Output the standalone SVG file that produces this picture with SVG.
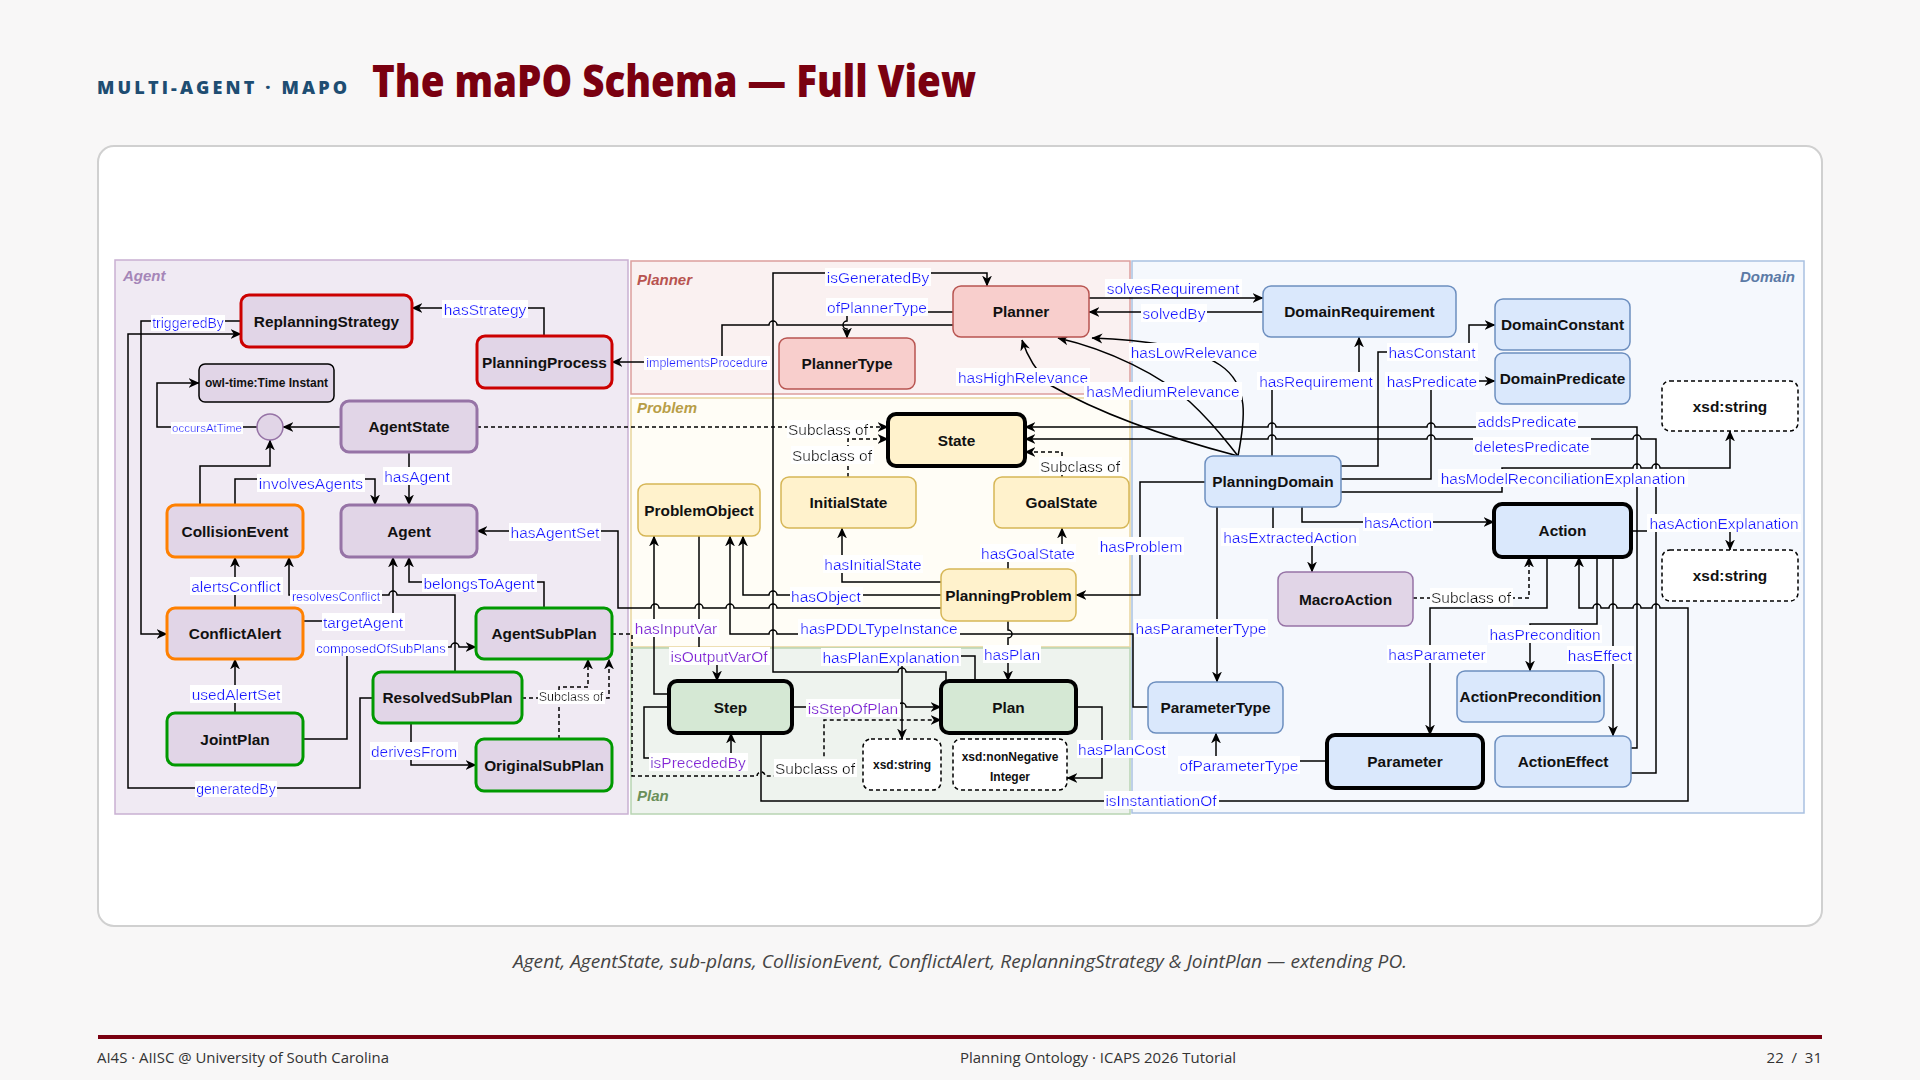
<svg xmlns="http://www.w3.org/2000/svg" width="1920" height="1080" viewBox="0 0 1920 1080">
<defs>
<marker id="ar" viewBox="0 0 10 10" refX="9.5" refY="5" markerWidth="11" markerHeight="11" markerUnits="userSpaceOnUse" orient="auto"><path d="M0,0.5 L10,5 L0,9.5 L3,5 z" fill="#000"/></marker>
<filter id="bg" x="-0.01" y="0" width="1.02" height="1"><feFlood flood-color="#ffffff"/><feComposite in="SourceGraphic" operator="over"/></filter>
</defs>
<style>
.e{fill:none;stroke:#000;stroke-width:1.5;marker-end:url(#ar)}
.d{fill:none;stroke:#000;stroke-width:1.5;stroke-dasharray:4 3;marker-end:url(#ar)}
.l{font-family:"Liberation Sans",Arial,sans-serif;font-size:15.5px;fill:#1a1aff;text-anchor:middle;dominant-baseline:central;filter:url(#bg)}
.p{font-family:"Liberation Sans",Arial,sans-serif;font-size:15.5px;fill:#8a22d8;text-anchor:middle;dominant-baseline:central;filter:url(#bg)}
.s{font-family:"Liberation Sans",Arial,sans-serif;font-size:12.5px;fill:#1a1aff;text-anchor:middle;dominant-baseline:central;filter:url(#bg)}
.k{font-family:"Liberation Sans",Arial,sans-serif;font-size:15.5px;fill:#111;text-anchor:middle;dominant-baseline:central;filter:url(#bg)}
.ks{font-family:"Liberation Sans",Arial,sans-serif;font-size:12.5px;fill:#111;text-anchor:middle;dominant-baseline:central;filter:url(#bg)}
.t{font-family:"Liberation Sans",Arial,sans-serif;font-size:15.4px;font-weight:bold;fill:#111;text-anchor:middle;dominant-baseline:central}
.ts{font-family:"Liberation Sans",Arial,sans-serif;font-size:12px;font-weight:bold;fill:#111;text-anchor:middle;dominant-baseline:central}
.ag{fill:#e1d5e7;stroke:#9673a6;stroke-width:3}
.agt{fill:#e1d5e7;stroke:#9673a6;stroke-width:1.5}
.rd{fill:#e1d5e7;stroke:#cc0000;stroke-width:3}
.or{fill:#e1d5e7;stroke:#ff8000;stroke-width:3}
.gr{fill:#e1d5e7;stroke:#009900;stroke-width:3}
.bk{fill:#e1d5e7;stroke:#000;stroke-width:1.5}
.pl{fill:#f8cecc;stroke:#b85450;stroke-width:1.5}
.yl{fill:#fff2cc;stroke:#d6b656;stroke-width:1.5}
.ylk{fill:#fff2cc;stroke:#000;stroke-width:4}
.gk{fill:#d5e8d4;stroke:#000;stroke-width:4}
.xs{fill:#fff;stroke:#000;stroke-width:1.5;stroke-dasharray:4 3}
.bl{fill:#dae8fc;stroke:#6c8ebf;stroke-width:1.5}
.blk{fill:#dae8fc;stroke:#000;stroke-width:4}
.pn{font-family:"Liberation Sans",Arial,sans-serif;font-size:15px;font-weight:bold;font-style:italic}
</style>

<rect width="1920" height="1080" fill="#f8f7f7"/>
<text x="97" y="94" font-family="Open Sans, Liberation Sans, sans-serif" font-weight="800" font-size="18" fill="#1e4d72" letter-spacing="2" textLength="252" lengthAdjust="spacing">MULTI-AGENT · MAPO</text>
<text x="372" y="97" font-family="Open Sans, Liberation Sans, sans-serif" font-weight="800" font-size="44" fill="#7a0010" textLength="604" lengthAdjust="spacingAndGlyphs">The maPO Schema — Full View</text>

<rect x="98" y="146" width="1724" height="780" rx="16" fill="#fff" stroke="#d0d0d0" stroke-width="2"/>

<g id="panels">
<rect x="115" y="260" width="513" height="554" fill="#f0eaf3" stroke="#c9b0d2" stroke-width="1.5"/>
<text x="123" y="281" class="pn" fill="#a586b8">Agent</text>
<rect x="631" y="261" width="499" height="133" fill="#faf1f1" stroke="#dc9e9d" stroke-width="1.5"/>
<text x="637" y="285" class="pn" fill="#b85450">Planner</text>
<rect x="631" y="398" width="499" height="249" fill="#fffdf6" stroke="#e8d59d" stroke-width="1.5"/>
<text x="637" y="413" class="pn" fill="#b89e47">Problem</text>
<rect x="631" y="648" width="499" height="166" fill="#eef3ee" stroke="#b8d5b3" stroke-width="1.5"/>
<text x="637" y="801" class="pn" fill="#6a8f5a">Plan</text>
<rect x="1132" y="261" width="672" height="552" fill="#f5f8fd" stroke="#a9c1e1" stroke-width="1.5"/>
<text x="1795" y="282" class="pn" fill="#5b7aa6" text-anchor="end">Domain</text>
</g>

<g id="connectors">
<path class="e" d="M544,337 V308 H412"/>
<path class="e" d="M241,321 H141 V634 H167"/>
<path class="e" d="M373,698 H360 V788 H128 V334 H241"/>
<path class="e" d="M257,427 H157 V383 H199"/>
<path class="e" d="M341,427 H283"/>
<path class="e" d="M200,505 V466 H270 V440"/>
<path class="e" d="M235,505 V479 H375 V505"/>
<path class="e" d="M409,453 V505"/>
<path class="e" d="M941,608 H777 a4,4 0 0 0 -8,0 H734 a4,4 0 0 0 -8,0 H703 a4,4 0 0 0 -8,0 H659 a4,4 0 0 0 -8,0 H618 V531 H477"/>
<path class="e" d="M544,608 V582 H409 V557"/>
<path class="e" d="M235,608 V557"/>
<path class="e" d="M455,672 V595 H397 a4,4 0 0 0 -8,0 H289 V557"/>
<path class="e" d="M303,621 H393 V557"/>
<path class="e" d="M303,739 H347 V647 H451 a4,4 0 0 1 8,0 H476"/>
<path class="e" d="M235,713 V659"/>
<path class="e" d="M411,723 V765 H476"/>
<path class="d" d="M522,698 H609 V659"/>
<path class="d" d="M559,739 V687 H588 V659"/>
<path class="d" d="M477,427 H888"/>
<path class="e" d="M953,325 H777 a4,4 0 0 0 -8,0 H722 V362 H612"/>
<path class="e" d="M953,312 H847 V321 a4,4 0 0 0 0,8 V338"/>
<path class="e" d="M946,681 V672 H906 a4,4 0 0 0 -8,0 H773 V273 H987 V286"/>
<path class="e" d="M1238,456 Q1120,425 1050,385 Q1030,365 1022,340"/>
<path class="e" d="M1238,456 C1225,440 1215,425 1190,402 C1160,375 1110,350 1058,338"/>
<path class="e" d="M1238,456 C1245,420 1250,385 1220,365 C1190,345 1140,340 1092,338"/>
<path class="e" d="M1089,298 H1263"/>
<path class="e" d="M1263,312 H1089"/>
<path class="e" d="M1272,456 V381 H1359 V337"/>
<path class="e" d="M1341,466 H1378 V352 H1469 V325 H1495"/>
<path class="e" d="M1341,479 H1431 V381 H1495"/>
<path class="e" d="M1341,492 H1502 V468 H1633 a4,4 0 0 1 8,0 H1652 a4,4 0 0 1 8,0 H1730 V431"/>
<path class="e" d="M1631,748 H1637 V427 H1435 a4,4 0 0 0 -8,0 H1276 a4,4 0 0 0 -8,0 H1025"/>
<path class="e" d="M1631,773 H1656 V439 H1641 a4,4 0 0 0 -8,0 H1435 a4,4 0 0 0 -8,0 H1276 a4,4 0 0 0 -8,0 H1025"/>
<path class="e" d="M761,733 V801 H1688 V608 H1660 a4,4 0 0 0 -8,0 H1641 a4,4 0 0 0 -8,0 H1617 a4,4 0 0 0 -8,0 H1601 a4,4 0 0 0 -8,0 H1579 V557"/>
<path class="e" d="M1302,507 V522 H1494"/>
<path class="e" d="M1273,507 V537 H1312 V572"/>
<path class="e" d="M1205,482 H1140 V595 H1076"/>
<path class="e" d="M1217,507 V682"/>
<path class="e" d="M1148,707 H1133 V634 H777 a4,4 0 0 0 -8,0 H730 V536"/>
<path class="e" d="M941,595 H777 a4,4 0 0 0 -8,0 H743 V536"/>
<path class="e" d="M669,694 H654 V536"/>
<path class="e" d="M699,536 V648 H717 V681"/>
<path class="e" d="M941,582 H842 V528"/>
<path class="e" d="M1008,569 V553 H1062 V528"/>
<path class="e" d="M1008,621 V630 a4,4 0 0 1 0,8 V681"/>
<path class="e" d="M975,681 V656 H902 V739"/>
<path class="e" d="M792,707 H898 a4,4 0 0 1 8,0 H941"/>
<path class="d" d="M612,634 H632 V776 H757 a4,4 0 0 1 8,0 H824 V720 H941"/>
<path class="e" d="M669,707 H644 V758 H731 V733"/>
<path class="e" d="M1076,707 H1102 V778 H1067"/>
<path class="d" d="M848,477 V439 H888"/>
<path class="d" d="M1062,477 V452 H1025"/>
<path class="e" d="M1547,557 V608 H1430 V735"/>
<path class="d" d="M1413,598 H1529 V557"/>
<path class="e" d="M1597,557 V624 H1530 V671"/>
<path class="e" d="M1613,557 V736"/>
<path class="e" d="M1631,531 H1730 V550"/>
<path class="e" d="M1327,761 H1216 V733"/>

<text class="l" x="485" y="309">hasStrategy</text>
<text class="l" x="188" y="323" style="font-size:14px">triggeredBy</text>
<text class="s" x="207" y="428" style="font-size:11.5px">occursAtTime</text>
<text class="l" x="311" y="483">involvesAgents</text>
<text class="l" x="417" y="476">hasAgent</text>
<text class="l" x="555" y="532">hasAgentSet</text>
<text class="l" x="236" y="586">alertsConflict</text>
<text class="s" x="336" y="597">resolvesConflict</text>
<text class="l" x="479" y="583">belongsToAgent</text>
<text class="l" x="363" y="622">targetAgent</text>
<text class="s" x="381" y="648" style="font-size:13px">composedOfSubPlans</text>
<text class="l" x="236" y="694">usedAlertSet</text>
<text class="l" x="414" y="751">derivesFrom</text>
<text class="ks" x="571" y="697">Subclass of</text>
<text class="l" x="236" y="789" style="font-size:14px">generatedBy</text>
<text class="s" x="707" y="363">implementsProcedure</text>
<text class="l" x="877" y="307">ofPlannerType</text>
<text class="l" x="878" y="277">isGeneratedBy</text>
<text class="k" x="828" y="429">Subclass of</text>
<text class="k" x="832" y="455">Subclass of</text>
<text class="k" x="1080" y="466">Subclass of</text>
<text class="l" x="1023" y="377">hasHighRelevance</text>
<text class="l" x="1163" y="391">hasMediumRelevance</text>
<text class="l" x="1194" y="352">hasLowRelevance</text>
<text class="l" x="1173" y="288">solvesRequirement</text>
<text class="l" x="1174" y="313">solvedBy</text>
<text class="l" x="1316" y="381">hasRequirement</text>
<text class="l" x="1432" y="352">hasConstant</text>
<text class="l" x="1432" y="381">hasPredicate</text>
<text class="l" x="1527" y="421">addsPredicate</text>
<text class="l" x="1532" y="446">deletesPredicate</text>
<text class="l" x="1563" y="478">hasModelReconciliationExplanation</text>
<text class="l" x="1724" y="523">hasActionExplanation</text>
<text class="l" x="1398" y="522">hasAction</text>
<text class="l" x="1290" y="537">hasExtractedAction</text>
<text class="l" x="1141" y="546">hasProblem</text>
<text class="l" x="1201" y="628">hasParameterType</text>
<text class="l" x="1239" y="765">ofParameterType</text>
<text class="l" x="1437" y="654">hasParameter</text>
<text class="l" x="1545" y="634">hasPrecondition</text>
<text class="l" x="1600" y="655">hasEffect</text>
<text class="k" x="1471" y="597">Subclass of</text>
<text class="p" x="676" y="628">hasInputVar</text>
<text class="p" x="719" y="656">isOutputVarOf</text>
<text class="l" x="826" y="596">hasObject</text>
<text class="l" x="873" y="564">hasInitialState</text>
<text class="l" x="1028" y="553">hasGoalState</text>
<text class="l" x="879" y="628">hasPDDLTypeInstance</text>
<text class="l" x="891" y="657">hasPlanExplanation</text>
<text class="l" x="1012" y="654">hasPlan</text>
<text class="p" x="853" y="708">isStepOfPlan</text>
<text class="p" x="698" y="762">isPrecededBy</text>
<text class="k" x="815" y="768">Subclass of</text>
<text class="l" x="1122" y="749">hasPlanCost</text>
<text class="l" x="1161" y="800">isInstantiationOf</text>
</g>

<g id="n-replanningstrategy"><rect class="rd" x="241" y="295" width="171" height="52" rx="8"/><text class="t" x="326.5" y="321">ReplanningStrategy</text></g>
<g id="n-planningprocess"><rect class="rd" x="477" y="336" width="135" height="52" rx="8"/><text class="t" x="544.5" y="362">PlanningProcess</text></g>
<g id="n-timeinstant"><rect class="bk" x="199" y="364" width="135" height="38" rx="6"/><text class="ts" x="266.5" y="383">owl-time:Time Instant</text></g>
<g id="n-timenode"><circle cx="270" cy="427" r="13" fill="#e1d5e7" stroke="#9673a6" stroke-width="1.5"/></g>
<g id="n-agentstate"><rect class="ag" x="341" y="401" width="136" height="51" rx="8"/><text class="t" x="409" y="426.5">AgentState</text></g>
<g id="n-agent"><rect class="ag" x="341" y="505" width="136" height="52" rx="8"/><text class="t" x="409" y="531">Agent</text></g>
<g id="n-collisionevent"><rect class="or" x="167" y="505" width="136" height="52" rx="8"/><text class="t" x="235" y="531">CollisionEvent</text></g>
<g id="n-conflictalert"><rect class="or" x="167" y="608" width="136" height="51" rx="8"/><text class="t" x="235" y="633.5">ConflictAlert</text></g>
<g id="n-jointplan"><rect class="gr" x="167" y="713" width="136" height="52" rx="8"/><text class="t" x="235" y="739">JointPlan</text></g>
<g id="n-agentsubplan"><rect class="gr" x="476" y="608" width="136" height="51" rx="8"/><text class="t" x="544" y="633.5">AgentSubPlan</text></g>
<g id="n-resolvedsubplan"><rect class="gr" x="373" y="672" width="149" height="51" rx="8"/><text class="t" x="447.5" y="697.5">ResolvedSubPlan</text></g>
<g id="n-originalsubplan"><rect class="gr" x="476" y="739" width="136" height="52" rx="8"/><text class="t" x="544" y="765">OriginalSubPlan</text></g>

<g id="n-planner"><rect class="pl" x="953" y="286" width="136" height="51" rx="8"/><text class="t" x="1021" y="311.5">Planner</text></g>
<g id="n-plannertype"><rect class="pl" x="779" y="338" width="136" height="51" rx="8"/><text class="t" x="847" y="363.5">PlannerType</text></g>
<g id="n-state"><rect class="ylk" x="888" y="414" width="137" height="52" rx="8"/><text class="t" x="956.5" y="440">State</text></g>
<g id="n-problemobject"><rect class="yl" x="638" y="484" width="122" height="52" rx="8"/><text class="t" x="699" y="510">ProblemObject</text></g>
<g id="n-initialstate"><rect class="yl" x="781" y="477" width="135" height="51" rx="8"/><text class="t" x="848.5" y="502.5">InitialState</text></g>
<g id="n-goalstate"><rect class="yl" x="994" y="477" width="135" height="51" rx="8"/><text class="t" x="1061.5" y="502.5">GoalState</text></g>
<g id="n-planningproblem"><rect class="yl" x="941" y="569" width="135" height="52" rx="8"/><text class="t" x="1008.5" y="595">PlanningProblem</text></g>
<g id="n-step"><rect class="gk" x="669" y="681" width="123" height="52" rx="8"/><text class="t" x="730.5" y="707">Step</text></g>
<g id="n-plan"><rect class="gk" x="941" y="681" width="135" height="52" rx="8"/><text class="t" x="1008.5" y="707">Plan</text></g>
<g id="n-xsdstring-plan"><rect class="xs" x="863" y="739" width="78" height="51" rx="8"/><text class="ts" x="902" y="764.5">xsd:string</text></g>
<g id="n-xsdnonneg"><rect class="xs" x="953" y="739" width="114" height="51" rx="8"/><text class="ts" x="1010" y="757">xsd:nonNegative</text><text class="ts" x="1010" y="777">Integer</text></g>

<g id="n-domainrequirement"><rect class="bl" x="1263" y="286" width="193" height="51" rx="8"/><text class="t" x="1359.5" y="311.5">DomainRequirement</text></g>
<g id="n-domainconstant"><rect class="bl" x="1495" y="299" width="135" height="51" rx="8"/><text class="t" x="1562.5" y="324.5">DomainConstant</text></g>
<g id="n-domainpredicate"><rect class="bl" x="1495" y="353" width="135" height="51" rx="8"/><text class="t" x="1562.5" y="378.5">DomainPredicate</text></g>
<g id="n-xsdstring-1"><rect class="xs" x="1662" y="381" width="136" height="50" rx="8"/><text class="t" x="1730" y="406">xsd:string</text></g>
<g id="n-planningdomain"><rect class="bl" x="1205" y="456" width="136" height="51" rx="8"/><text class="t" x="1273" y="481.5">PlanningDomain</text></g>
<g id="n-action"><rect class="blk" x="1494" y="504" width="137" height="53" rx="8"/><text class="t" x="1562.5" y="530.5">Action</text></g>
<g id="n-xsdstring-2"><rect class="xs" x="1662" y="550" width="136" height="51" rx="8"/><text class="t" x="1730" y="575.5">xsd:string</text></g>
<g id="n-macroaction"><rect class="agt" x="1278" y="572" width="135" height="54" rx="8"/><text class="t" x="1345.5" y="599">MacroAction</text></g>
<g id="n-parametertype"><rect class="bl" x="1148" y="682" width="135" height="51" rx="8"/><text class="t" x="1215.5" y="707.5">ParameterType</text></g>
<g id="n-parameter"><rect class="blk" x="1327" y="735" width="156" height="53" rx="8"/><text class="t" x="1405" y="761.5">Parameter</text></g>
<g id="n-actionprecondition"><rect class="bl" x="1457" y="671" width="147" height="51" rx="8"/><text class="t" x="1530.5" y="696.5">ActionPrecondition</text></g>
<g id="n-actioneffect"><rect class="bl" x="1495" y="736" width="136" height="51" rx="8"/><text class="t" x="1563" y="761.5">ActionEffect</text></g>

<text x="960" y="968" font-family="Open Sans, Liberation Sans, sans-serif" font-style="italic" font-size="18" fill="#444" text-anchor="middle" textLength="894" lengthAdjust="spacingAndGlyphs">Agent, AgentState, sub-plans, CollisionEvent, ConflictAlert, ReplanningStrategy &amp; JointPlan — extending PO.</text>
<rect x="98" y="1035" width="1724" height="4" fill="#7a0010"/>
<text x="97" y="1063" font-family="Open Sans, Liberation Sans, sans-serif" font-size="15" fill="#333" textLength="292" lengthAdjust="spacingAndGlyphs">AI4S · AIISC @ University of South Carolina</text>
<text x="960" y="1063" font-family="Open Sans, Liberation Sans, sans-serif" font-size="15" fill="#333" textLength="276" lengthAdjust="spacingAndGlyphs">Planning Ontology · ICAPS 2026 Tutorial</text>
<text x="1822" y="1063" font-family="Open Sans, Liberation Sans, sans-serif" font-size="15" fill="#333" text-anchor="end" style="white-space:pre">22  /  31</text>
</svg>
